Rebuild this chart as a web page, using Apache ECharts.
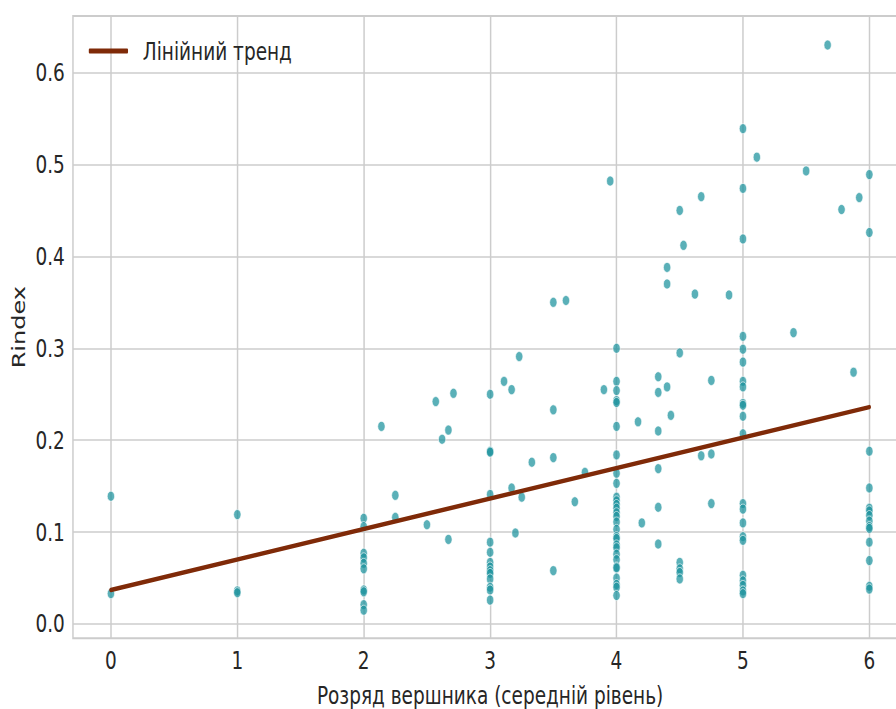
<!DOCTYPE html>
<html>
<head>
<meta charset="utf-8">
<script src="https://cdn.jsdelivr.net/npm/echarts@6/dist/echarts.min.js"></script>
<style>
  html, body { margin: 0; padding: 0; background: #fff; overflow: hidden; width: 896px; height: 709px; }
  #chart { width: 1211px; height: 709px; transform: scaleX(0.74); transform-origin: 0 0; }
</style>
</head>
<body>
<div id="chart"></div>
<script>
// Scatter points: x = rank (average level), y = Rindex
const pointsX = [
  0, 0,
  1, 1, 1,
  2, 2, 2, 2, 2, 2, 2, 2, 2, 2,
  2.14, 2.25, 2.25, 2.5, 2.57, 2.62, 2.67, 2.67, 2.71,
  3, 3, 3, 3, 3, 3, 3, 3, 3, 3, 3, 3, 3, 3,
  3.11, 3.17, 3.23, 3.17, 3.25, 3.2, 3.33, 3.5, 3.5, 3.5, 3.5, 3.6, 3.67, 3.75, 3.9, 3.95,
  4, 4, 4, 4, 4, 4, 4, 4, 4, 4, 4, 4, 4, 4, 4, 4, 4, 4, 4, 4, 4, 4, 4, 4, 4, 4, 4, 4, 4,
  4.17, 4.2, 4.33, 4.33, 4.33, 4.33, 4.33, 4.33, 4.4, 4.4, 4.4, 4.43, 4.5, 4.5, 4.5, 4.5, 4.5, 4.5, 4.53, 4.62, 4.67, 4.67, 4.75, 4.75, 4.75, 4.89,
  5, 5, 5, 5, 5, 5, 5, 5, 5, 5, 5, 5, 5, 5, 5, 5, 5, 5, 5, 5, 5, 5,
  5.11, 5.4, 5.5, 5.67, 5.78, 5.875, 5.92,
  6, 6, 6, 6, 6, 6, 6, 6, 6, 6, 6, 6, 6, 6
];
const pointsY = [
  0.139, 0.033,
  0.119, 0.036, 0.034,
  0.115, 0.106, 0.077, 0.072, 0.066, 0.060, 0.037, 0.035, 0.021, 0.015,
  0.215, 0.140, 0.116, 0.108, 0.242, 0.201, 0.211, 0.092, 0.251,
  0.250, 0.188, 0.187, 0.141, 0.089, 0.078, 0.067, 0.062, 0.058, 0.055, 0.049, 0.040, 0.037, 0.026,
  0.264, 0.255, 0.291, 0.148, 0.138, 0.099, 0.176, 0.350, 0.233, 0.181, 0.058, 0.352, 0.133, 0.165, 0.255, 0.482,
  0.300, 0.264, 0.254, 0.243, 0.241, 0.215, 0.184, 0.164, 0.153, 0.138, 0.134, 0.130, 0.126, 0.121, 0.117, 0.111, 0.103, 0.095, 0.093, 0.086, 0.083, 0.076, 0.070, 0.062, 0.061, 0.050, 0.043, 0.040, 0.031,
  0.220, 0.110, 0.269, 0.252, 0.210, 0.169, 0.127, 0.087, 0.258, 0.388, 0.370, 0.227, 0.450, 0.295, 0.067, 0.060, 0.056, 0.049, 0.412, 0.359, 0.465, 0.183, 0.265, 0.185, 0.131, 0.358,
  0.539, 0.474, 0.419, 0.313, 0.299, 0.285, 0.264, 0.258, 0.240, 0.238, 0.226, 0.207, 0.131, 0.125, 0.110, 0.095, 0.091, 0.053, 0.047, 0.042, 0.036, 0.033,
  0.508, 0.317, 0.493, 0.630, 0.451, 0.274, 0.464,
  0.489, 0.426, 0.188, 0.148, 0.126, 0.123, 0.118, 0.112, 0.106, 0.104, 0.089, 0.069, 0.041, 0.038
];
// Linear trend end points
const trendX = [0, 6];
const trendY = [0.037, 0.236];
// Tick labels
const xTicks = [0, 1, 2, 3, 4, 5, 6];
const yTicks = [0, 0.1, 0.2, 0.3, 0.4, 0.5, 0.6];

const xName = 'Розряд вершника (середній рівень)';
const yName = 'Rindex';
const trendName = 'Лінійний тренд';

const scatterData = pointsX.map((x, i) => [x, pointsY[i]]);
const trendData = trendX.map((x, i) => [x, trendY[i]]);

const FONT = 'DejaVu Sans';
const TXT = '#262626';

const chart = echarts.init(document.getElementById('chart'), null, { renderer: 'svg' });
chart.setOption({
  animation: false,
  backgroundColor: '#ffffff',
  textStyle: { fontFamily: FONT },
  grid: {
    left: 98.6, top: 16, width: 1127.4, height: 622.3,
    outerBoundsMode: 'none', containLabel: false,
    show: true, borderColor: '#cccccc', borderWidth: 2, backgroundColor: 'transparent'
  },
  legend: {
    data: [trendName],
    left: 120, top: 36, padding: 0,
    icon: 'roundRect', itemWidth: 53, itemHeight: 5,
    textStyle: { fontFamily: FONT, fontSize: 25, color: TXT, lineHeight: 30, padding: [0, 0, 0, 15] }
  },
  xAxis: {
    type: 'value', min: -0.3, max: 6.3,
    name: xName, nameLocation: 'middle', nameGap: 46,
    nameTextStyle: { fontFamily: FONT, fontSize: 25, color: TXT, lineHeight: 22 },
    axisLine: { show: false },
    axisTick: { show: false, customValues: xTicks },
    axisLabel: { customValues: xTicks, margin: 10, fontFamily: FONT, fontSize: 25, color: TXT,
      formatter: v => String(v) },
    splitLine: { show: true, lineStyle: { color: '#cccccc', width: 2 } }
  },
  yAxis: {
    type: 'value', min: -0.0156, max: 0.6616,
    name: yName, nameLocation: 'middle', nameGap: 55,
    nameTextStyle: { fontFamily: FONT, fontSize: 24, color: TXT },
    axisLine: { show: false },
    axisTick: { show: false, customValues: yTicks },
    axisLabel: { customValues: yTicks, margin: 11, fontFamily: FONT, fontSize: 25, color: TXT,
      formatter: v => v.toFixed(1) },
    splitLine: { show: true, lineStyle: { color: '#cccccc', width: 1.5 } }
  },
  series: [
    {
      type: 'scatter', data: scatterData, symbol: 'circle', symbolSize: 10, z: 2,
      itemStyle: { color: '#1a929d', opacity: 0.72, borderColor: '#ffffff', borderWidth: 1 }
    },
    {
      name: trendName, type: 'line', data: trendData, z: 5,
      symbol: 'none', showSymbol: false,
      lineStyle: { color: '#7f2a08', width: 4.5, cap: 'round' },
      itemStyle: { color: '#7f2a08' }
    }
  ]
});
</script>
</body>
</html>
